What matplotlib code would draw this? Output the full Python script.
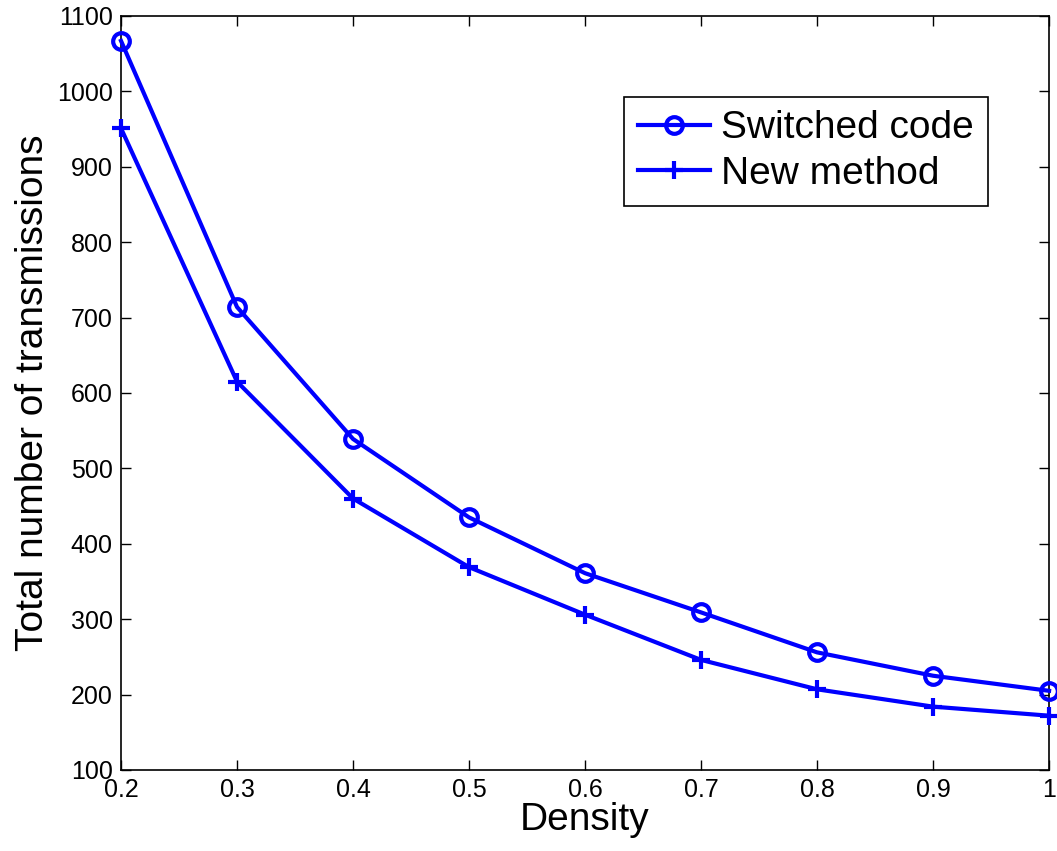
import matplotlib
matplotlib.use('Agg')
import matplotlib.pyplot as plt

plt.rcParams['font.family'] = ['Liberation Sans', 'DejaVu Sans']

# Data
density = [0.2, 0.3, 0.4, 0.5, 0.6, 0.7, 0.8, 0.9, 1.0]
switched_code = [1067, 714, 539, 435, 361, 309, 256, 225, 205]
new_method = [951, 615, 460, 369, 306, 246, 207, 184, 172]

fig = plt.figure(figsize=(10.57, 8.51), dpi=100)
ax = fig.add_axes([0.1145, 0.0952, 0.878, 0.886])

ax.plot(density, switched_code, color='#0000ff', lw=3, marker='o',
        markersize=12, markerfacecolor='none', markeredgewidth=3,
        label='Switched code', clip_on=False, zorder=3)
ax.plot(density, new_method, color='#0000ff', lw=3, marker='+',
        markersize=13, markeredgewidth=3,
        label='New method', clip_on=False, zorder=3)

ax.set_xlim(0.2, 1.0)
ax.set_ylim(100, 1100)
ax.set_xticks(density)
ax.set_xticklabels(['0.2', '0.3', '0.4', '0.5', '0.6', '0.7', '0.8', '0.9', '1'])
ax.set_yticks(range(100, 1101, 100))

ax.tick_params(direction='in', top=True, right=True, labelsize=18, length=7, width=1)
ax.tick_params(axis='x', pad=6)
ax.tick_params(axis='y', pad=6)
for s in ax.spines.values():
    s.set_linewidth(1.2)

ax.set_xlabel('Density', fontsize=28, labelpad=0)
ax.set_ylabel('Total number of transmissions', fontsize=28, labelpad=4)

leg = ax.legend(loc='upper right', bbox_to_anchor=(0.934, 0.893), borderaxespad=0,
                fontsize=28, frameon=True, fancybox=False, edgecolor='black',
                framealpha=1, handlelength=1.85, borderpad=0.35, labelspacing=0.25,
                handletextpad=0.3)
leg.get_frame().set_linewidth(1.2)

plt.savefig('out.png', dpi=100)
